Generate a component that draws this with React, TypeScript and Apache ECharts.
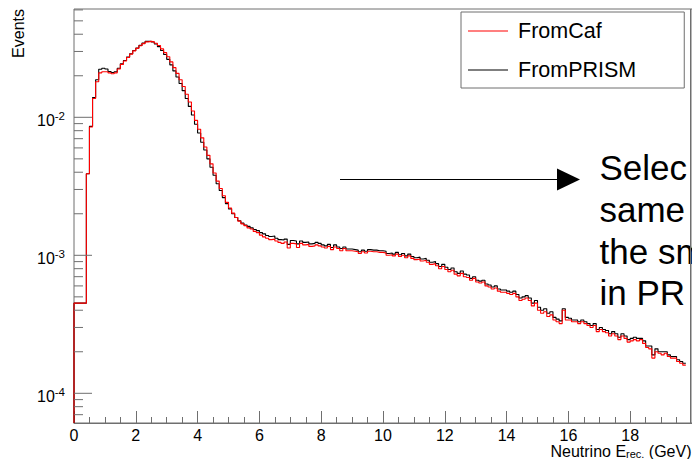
import React, { useEffect, useRef } from "react";
import * as echarts from "echarts";

// Histogram binning (GeV) and axis ranges
const BIN_WIDTH = 0.1;
const X_MIN = 0;
const X_MAX = 20;
const X_STEP = 2;
const Y_MIN = 6.093e-5;
const Y_MAX = 6.093e-2;

const seriesNames = ["FromCaf", "FromPRISM"];

// Events per 0.1 GeV bin, starting at 0 GeV
const fromCaf = [
  4.5e-4, 4.5e-4, 4.5e-4, 4.5e-4, 3.9e-3, 8.5e-3, 1.37e-2, 1.81e-2, 2.10e-2, 2.14e-2,
  2.14e-2, 2.10e-2, 2.07e-2, 2.10e-2, 2.24e-2, 2.42e-2, 2.56e-2, 2.71e-2, 2.87e-2, 3.03e-2,
  3.16e-2, 3.30e-2, 3.42e-2, 3.52e-2, 3.55e-2, 3.52e-2, 3.44e-2, 3.31e-2, 3.13e-2, 2.94e-2,
  2.75e-2, 2.52e-2, 2.29e-2, 2.08e-2, 1.87e-2, 1.67e-2, 1.47e-2, 1.29e-2, 1.11e-2, 9.5e-3,
  8.2e-3, 7.1e-3, 6.1e-3, 5.3e-3, 4.6e-3, 3.95e-3, 3.45e-3, 3.05e-3, 2.70e-3, 2.42e-3,
  2.20e-3, 2.02e-3, 1.88e-3, 1.77e-3, 1.69e-3, 1.64e-3, 1.58e-3, 1.55e-3, 1.49e-3, 1.46e-3,
  1.40e-3, 1.36e-3, 1.33e-3, 1.30e-3, 1.31e-3, 1.27e-3, 1.24e-3, 1.22e-3, 1.25e-3, 1.13e-3,
  1.22e-3, 1.21e-3, 1.14e-3, 1.22e-3, 1.19e-3, 1.20e-3, 1.16e-3, 1.17e-3, 1.19e-3, 1.17e-3,
  1.15e-3, 1.13e-3, 1.16e-3, 1.10e-3, 1.15e-3, 1.12e-3, 1.08e-3, 1.12e-3, 1.08e-3, 1.08e-3,
  1.07e-3, 1.06e-3, 1.03e-3, 1.06e-3, 1.04e-3, 1.07e-3, 1.06e-3, 1.06e-3, 1.05e-3, 1.05e-3,
  1.04e-3, 1.00e-3, 1.01e-3, 9.9e-4, 1.02e-3, 9.8e-4, 1.00e-3, 9.6e-4, 9.9e-4, 9.5e-4,
  9.3e-4, 9.4e-4, 9.1e-4, 9.2e-4, 8.9e-4, 8.6e-4, 8.7e-4, 8.4e-4, 8.0e-4, 8.3e-4,
  7.9e-4, 7.6e-4, 7.8e-4, 7.3e-4, 7.1e-4, 7.4e-4, 7.0e-4, 6.9e-4, 6.6e-4, 6.8e-4,
  6.4e-4, 6.3e-4, 6.4e-4, 6.0e-4, 5.9e-4, 5.7e-4, 5.8e-4, 5.5e-4, 5.4e-4, 5.4e-4,
  5.3e-4, 5.2e-4, 5.3e-4, 5.0e-4, 4.7e-4, 4.8e-4, 4.9e-4, 4.7e-4, 4.3e-4, 4.5e-4,
  4.0e-4, 3.8e-4, 3.9e-4, 3.6e-4, 3.7e-4, 3.4e-4, 3.3e-4, 3.2e-4, 4.0e-4, 3.4e-4,
  3.4e-4, 3.3e-4, 3.3e-4, 3.2e-4, 3.3e-4, 3.2e-4, 3.1e-4, 3.0e-4, 3.1e-4, 2.8e-4,
  2.9e-4, 2.8e-4, 2.75e-4, 2.6e-4, 2.7e-4, 2.6e-4, 2.45e-4, 2.6e-4, 2.5e-4, 2.35e-4,
  2.4e-4, 2.45e-4, 2.4e-4, 2.45e-4, 2.3e-4, 2.15e-4, 2.1e-4, 1.8e-4, 2.0e-4, 1.95e-4,
  1.9e-4, 1.95e-4, 1.85e-4, 1.8e-4, 1.8e-4, 1.7e-4, 1.65e-4, 1.6e-4,
];

const fromPrism = [
  4.5e-4, 4.5e-4, 4.5e-4, 4.5e-4, 3.9e-3, 8.6e-3, 1.39e-2, 1.87e-2, 2.23e-2, 2.27e-2,
  2.24e-2, 2.15e-2, 2.11e-2, 2.14e-2, 2.27e-2, 2.44e-2, 2.58e-2, 2.73e-2, 2.89e-2, 3.05e-2,
  3.18e-2, 3.32e-2, 3.45e-2, 3.55e-2, 3.56e-2, 3.51e-2, 3.40e-2, 3.25e-2, 3.05e-2, 2.85e-2,
  2.63e-2, 2.40e-2, 2.17e-2, 1.96e-2, 1.76e-2, 1.56e-2, 1.37e-2, 1.20e-2, 1.04e-2, 8.9e-3,
  7.7e-3, 6.6e-3, 5.8e-3, 5.0e-3, 4.35e-3, 3.8e-3, 3.3e-3, 2.95e-3, 2.62e-3, 2.37e-3,
  2.17e-3, 2.00e-3, 1.88e-3, 1.78e-3, 1.71e-3, 1.66e-3, 1.62e-3, 1.58e-3, 1.54e-3, 1.51e-3,
  1.46e-3, 1.43e-3, 1.39e-3, 1.37e-3, 1.38e-3, 1.33e-3, 1.30e-3, 1.29e-3, 1.31e-3, 1.20e-3,
  1.28e-3, 1.27e-3, 1.21e-3, 1.27e-3, 1.24e-3, 1.25e-3, 1.21e-3, 1.22e-3, 1.24e-3, 1.22e-3,
  1.19e-3, 1.17e-3, 1.20e-3, 1.14e-3, 1.19e-3, 1.15e-3, 1.12e-3, 1.15e-3, 1.11e-3, 1.11e-3,
  1.10e-3, 1.09e-3, 1.06e-3, 1.09e-3, 1.07e-3, 1.10e-3, 1.09e-3, 1.09e-3, 1.08e-3, 1.08e-3,
  1.07e-3, 1.03e-3, 1.04e-3, 1.02e-3, 1.05e-3, 1.01e-3, 1.03e-3, 9.9e-4, 1.02e-3, 9.8e-4,
  9.6e-4, 9.7e-4, 9.4e-4, 9.5e-4, 9.2e-4, 8.9e-4, 9.0e-4, 8.7e-4, 8.3e-4, 8.6e-4,
  8.2e-4, 7.9e-4, 8.1e-4, 7.6e-4, 7.4e-4, 7.7e-4, 7.3e-4, 7.2e-4, 6.8e-4, 7.0e-4,
  6.6e-4, 6.5e-4, 6.6e-4, 6.2e-4, 6.1e-4, 5.9e-4, 6.0e-4, 5.7e-4, 5.6e-4, 5.6e-4,
  5.5e-4, 5.4e-4, 5.5e-4, 5.2e-4, 4.9e-4, 5.0e-4, 5.1e-4, 4.9e-4, 4.5e-4, 4.7e-4,
  4.2e-4, 4.0e-4, 4.1e-4, 3.8e-4, 3.9e-4, 3.55e-4, 3.45e-4, 3.35e-4, 4.1e-4, 3.55e-4,
  3.5e-4, 3.4e-4, 3.4e-4, 3.3e-4, 3.4e-4, 3.3e-4, 3.2e-4, 3.1e-4, 3.2e-4, 2.9e-4,
  3.0e-4, 2.9e-4, 2.85e-4, 2.7e-4, 2.8e-4, 2.7e-4, 2.55e-4, 2.7e-4, 2.6e-4, 2.45e-4,
  2.5e-4, 2.55e-4, 2.5e-4, 2.5e-4, 2.4e-4, 2.2e-4, 2.2e-4, 1.9e-4, 2.1e-4, 2.0e-4,
  2.0e-4, 2.0e-4, 1.9e-4, 1.85e-4, 1.85e-4, 1.75e-4, 1.7e-4, 1.65e-4,
];

// Log-axis decades and sub-decade multipliers for the ROOT-style ticks
const yDecades = [-5, -4, -3, -2, -1];
const yMultipliers = [1, 2, 3, 4, 5, 6, 7, 8, 9];

const noteLines = ["Selec", "same", "the sm", "in PR"];

const FONT = "'Liberation Sans', Arial, Helvetica, sans-serif";
const AXIS_GREY = "#6f6f6f";

// Turn bin contents into step-line points, starting from the bottom of the frame
function histogramPoints(values: number[]) {
  const pts: number[][] = [[X_MIN, Y_MIN]];
  values.forEach((v, i) => pts.push([X_MIN + i * BIN_WIDTH, v]));
  pts.push([X_MIN + values.length * BIN_WIDTH, values[values.length - 1]]);
  return pts;
}

function yTickData() {
  const out: number[][] = [];
  yDecades.forEach((d) => {
    yMultipliers.forEach((m) => {
      const v = m * Math.pow(10, d);
      if (v >= Y_MIN && v <= Y_MAX) out.push([X_MIN, v, m === 1 ? 1 : 0]);
    });
  });
  return out;
}

export default function App() {
  const ref = useRef<HTMLDivElement>(null);

  useEffect(() => {
    document.body.style.margin = "0";
    const chart = echarts.init(ref.current as HTMLDivElement, undefined, { renderer: "svg" });

    const option: any = {
      animation: false,
      backgroundColor: "#ffffff",
      grid: {
        left: 74,
        top: 9,
        width: 625,
        height: 414,
        show: true,
        borderColor: AXIS_GREY,
        borderWidth: 1,
        backgroundColor: "transparent",
      },
      legend: {
        orient: "vertical",
        left: 461,
        top: 12,
        data: [
          { name: seriesNames[0], icon: "rect" },
          { name: seriesNames[1], icon: "rect" },
        ],
        itemWidth: 40,
        itemHeight: 1,
        itemGap: 17,
        padding: [8, 48, 7, 7],
        borderColor: AXIS_GREY,
        borderWidth: 1,
        backgroundColor: "#ffffff",
        selectedMode: false,
        textStyle: { fontSize: 21.5, fontFamily: FONT, color: "#000", padding: [0, 0, 0, 5] },
      },
      xAxis: {
        type: "value",
        min: X_MIN,
        max: X_MAX,
        interval: X_STEP,
        axisLine: { show: true, lineStyle: { color: AXIS_GREY, width: 1 } },
        axisTick: { show: true, inside: true, length: 12, lineStyle: { color: AXIS_GREY } },
        minorTick: { show: true, splitNumber: 4, length: 6, lineStyle: { color: AXIS_GREY } },
        axisLabel: {
          fontSize: 16,
          fontFamily: FONT,
          color: "#000",
          margin: 4,
          showMaxLabel: false,
        },
        splitLine: { show: false },
        minorSplitLine: { show: false },
      },
      yAxis: {
        type: "log",
        logBase: 10,
        min: Y_MIN,
        max: Y_MAX,
        axisLine: { show: false },
        axisTick: { show: false },
        axisLabel: { show: false },
        splitLine: { show: false },
      },
      series: [
        {
          name: seriesNames[1],
          type: "line",
          step: "end",
          showSymbol: false,
          symbol: "none",
          clip: true,
          color: "#000000",
          lineStyle: { color: "#000000", width: 1.1 },
          data: histogramPoints(fromPrism),
          z: 2,
        },
        {
          name: seriesNames[0],
          type: "line",
          step: "end",
          showSymbol: false,
          symbol: "none",
          clip: true,
          color: "#ff0000",
          lineStyle: { color: "#ff0000", width: 1.1 },
          data: histogramPoints(fromCaf),
          z: 3,
        },
        {
          name: "yTicks",
          type: "custom",
          silent: true,
          encode: { x: 0, y: 1 },
          data: yTickData(),
          z: 5,
          renderItem: (_params: any, api: any) => {
            const v = api.value(1) as number;
            const major = api.value(2) === 1;
            const p = api.coord([X_MIN, v]);
            const children: any[] = [
              {
                type: "line",
                shape: { x1: p[0], y1: p[1], x2: p[0] + (major ? 18 : 9), y2: p[1] },
                style: { stroke: AXIS_GREY, lineWidth: 1 },
              },
            ];
            if (major) {
              const exp = Math.round(Math.log10(v));
              children.push({
                type: "text",
                x: p[0] - 9,
                y: p[1] + 3,
                style: {
                  text: `{b|10}{s|${exp}}`,
                  align: "right",
                  verticalAlign: "middle",
                  fill: "#000",
                  rich: {
                    b: { fontSize: 16, lineHeight: 20, verticalAlign: "middle", fontFamily: FONT, fill: "#000" },
                    s: { fontSize: 11.5, lineHeight: 12, verticalAlign: "top", fontFamily: FONT, fill: "#000" },
                  },
                },
              });
            }
            return { type: "group", children };
          },
        },
      ],
      graphic: [
        // right edge of the frame
        {
          type: "line",
          shape: { x1: 690.5, y1: 9, x2: 690.5, y2: 423 },
          style: { stroke: AXIS_GREY, lineWidth: 1 },
          z: 10,
        },
        // y-axis title
        {
          type: "text",
          x: 18,
          y: 9,
          rotation: Math.PI / 2,
          style: {
            text: "Events",
            fontSize: 16,
            fontFamily: FONT,
            fill: "#000",
            align: "right",
            verticalAlign: "middle",
          },
        },
        // x-axis title, right-aligned with the end of the axis
        {
          type: "text",
          x: 691.5,
          y: 451,
          style: {
            text: "{m|Neutrino E}{s|rec.}{m| (GeV)}",
            align: "right",
            verticalAlign: "middle",
            fill: "#000",
            rich: {
              m: { fontSize: 16, lineHeight: 16, verticalAlign: "top", fontFamily: FONT, fill: "#000" },
              s: { fontSize: 11, lineHeight: 11, verticalAlign: "bottom", fontFamily: FONT, fill: "#000" },
            },
          },
        },
        // annotation arrow
        {
          type: "line",
          shape: { x1: 340, y1: 179.5, x2: 560, y2: 179.5 },
          style: { stroke: "#000", lineWidth: 1.2 },
        },
        {
          type: "polygon",
          shape: { points: [[557, 168.5], [580, 179.5], [557, 190.5]] },
          style: { fill: "#000" },
        },
        {
          type: "text",
          x: 599.5,
          y: 147,
          style: {
            text: noteLines.join("\n"),
            fontSize: 35,
            lineHeight: 41.7,
            fontFamily: FONT,
            fill: "#000",
            align: "left",
            verticalAlign: "top",
          },
        },
      ],
    };

    chart.setOption(option);
    return () => {
      chart.dispose();
    };
  }, []);

  return <div ref={ref} style={{ width: 692, height: 459, overflow: "hidden" }} />;
}
